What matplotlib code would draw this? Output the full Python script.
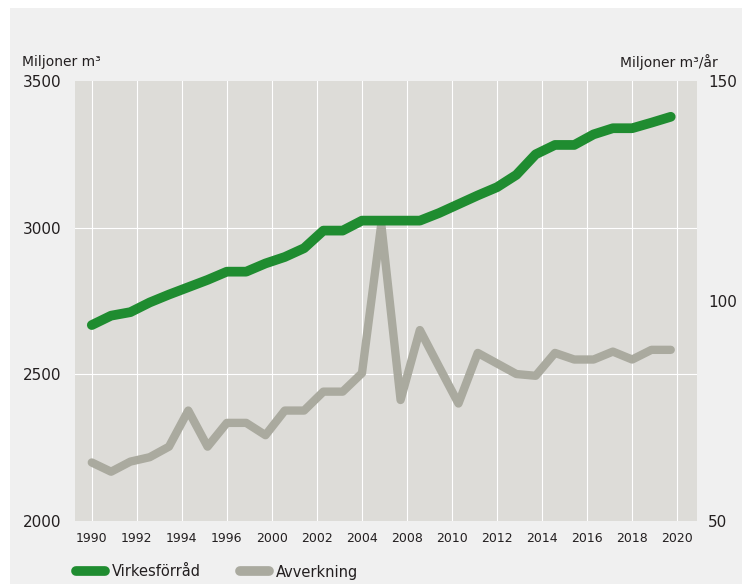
import numpy as np
import matplotlib
matplotlib.use('Agg')
import matplotlib.pyplot as plt
from matplotlib.patches import Rectangle

# Virkesförråd (left axis, miljoner m3) and Avverkning (right axis, miljoner m3/år)
years = list(range(1990, 2021))
virkesforrad = [2668, 2700, 2712, 2745, 2772, 2797, 2822, 2850, 2850, 2878,
                2900, 2930, 2990, 2990, 3024, 3024, 3024, 3024, 3050, 3080,
                3110, 3138, 3180, 3250, 3282, 3282, 3318, 3339, 3339, 3358,
                3378]
avverkning = [63.3, 61.2, 63.5, 64.5, 66.9, 75.1, 66.9, 72.3, 72.3, 69.5,
              75.1, 75.1, 79.4, 79.4, 83.6, 117.5, 77.5, 93.4, 85.0, 76.7,
              88.2, 85.8, 83.4, 83.0, 88.2, 86.7, 86.7, 88.5, 86.7, 88.9,
              88.9]
tick_labels = ['1990', '1992', '1994', '1996', '2000', '2002', '2004',
               '2008', '2010', '2012', '2014', '2016', '2018', '2020']
left_ticks = [2000, 2500, 3000, 3500]
right_ticks = [50, 100, 150]

green = '#1f8c30'
grey = '#aaaa9f'
plot_bg = '#dddcd8'
fig_bg = '#f0f0f0'
text_color = '#231f20'

fig = plt.figure(figsize=(7.42, 5.84), dpi=100, facecolor='white')
# grey panel, white margin at top and left
fig.patches.append(Rectangle((10 / 742, 0), 1, 1 - 8 / 584,
                             transform=fig.transFigure, facecolor=fig_bg,
                             edgecolor='none', zorder=-10))

ax = fig.add_axes([75 / 742, 63 / 584, 622 / 742, 440 / 584])
ax2 = ax.twinx()
ax2.set_zorder(0)
ax.set_zorder(1)
ax.patch.set_visible(False)
ax2.patch.set_visible(True)
ax2.patch.set_facecolor(plot_bg)

ax.plot(years, virkesforrad, color=green, lw=7, solid_capstyle='round',
        solid_joinstyle='round', zorder=3)
ax2.plot(years, avverkning, color=grey, lw=6, solid_capstyle='round',
         solid_joinstyle='round', zorder=2)

# x ticks are evenly spaced category labels over the year range
xticks = np.linspace(1990, 2020.3, len(tick_labels))
ax.set_xticks(xticks)
ax.set_xticklabels(tick_labels, fontsize=9, color=text_color)
ax.set_xlim(1989.13, 2021.36)

ax.set_ylim(2000, 3500)
ax.set_yticks(left_ticks)
ax.set_yticklabels([str(v) for v in left_ticks], fontsize=11, color=text_color)
ax2.set_ylim(50, 150)
ax2.set_yticks(right_ticks)
ax2.set_yticklabels([str(v) for v in right_ticks], fontsize=11, color=text_color)

ax.tick_params(axis='y', length=0, pad=10)
ax.tick_params(axis='x', length=0, pad=8)
ax2.tick_params(axis='y', length=0, pad=8)

for x in xticks:
    ax2.axvline(x, color='white', lw=0.8, zorder=1)
for y in [2500, 3000]:
    ax2.axhline(50 + (y - 2000) / 15, color='white', lw=0.8, zorder=1)

for a in (ax, ax2):
    for s in a.spines.values():
        s.set_visible(False)

fig.text(22 / 742, 1 - 62 / 584, 'Miljoner m³', fontsize=10,
         color=text_color, va='center', ha='left')
fig.text(718 / 742, 1 - 62 / 584, 'Miljoner m³/år', fontsize=10,
         color=text_color, va='center', ha='right')

h1, = ax.plot([], [], color=green, lw=7, solid_capstyle='round')
h2, = ax.plot([], [], color=grey, lw=7, solid_capstyle='round')
fig.legend([h1, h2], ['Virkesförråd', 'Avverkning'], loc='center left',
           bbox_to_anchor=(76 / 742, 1 - 572 / 584), ncol=2, frameon=False,
           fontsize=10.5, handlelength=2.0, handletextpad=0.45,
           columnspacing=2.7, borderpad=0, borderaxespad=0,
           labelcolor=text_color)

fig.savefig('out.png', dpi=100, facecolor='white')
